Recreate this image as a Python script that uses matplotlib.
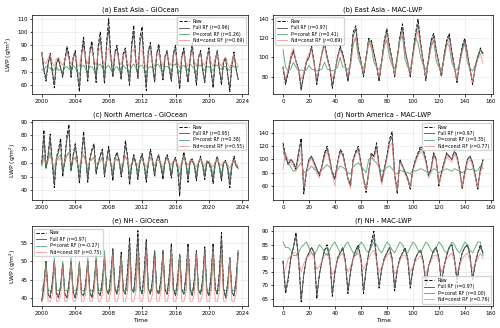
import numpy as np
import matplotlib
matplotlib.use("Agg")
import matplotlib.pyplot as plt

# ---- data (GiOcean = quarterly from 2000, MAC-LWP = every 2nd month) ----
# (a) East Asia - GiOcean
ea_go_raw = [85, 71, 63, 76, 84, 70, 58, 77, 80, 73, 66, 79, 89, 83, 66, 81,
             86, 69, 55, 84, 96, 79, 63, 87, 93, 77, 62, 90, 100, 80, 61, 92,
             110, 83, 66, 85, 90, 77, 64, 84, 88, 73, 60, 91, 105, 79, 65, 96,
             104, 77, 56, 86, 92, 75, 62, 84, 91, 76, 64, 82, 86, 73, 63, 84,
             90, 72, 57, 82, 88, 73, 62, 80, 92, 74, 60, 81, 86, 71, 62, 80,
             88, 71, 58, 79, 86, 72, 60, 78, 81, 67, 55, 76, 85, 72, 64]
ea_go_full = [83, 72, 65, 76, 82, 71, 61, 77, 79, 73, 67, 78, 87, 81, 67, 80,
              84, 70, 58, 82, 92, 78, 65, 85, 90, 77, 64, 88, 96, 79, 63, 89,
              103, 81, 67, 84, 88, 77, 65, 83, 86, 73, 62, 88, 100, 78, 66, 92,
              99, 76, 59, 85, 90, 75, 63, 83, 89, 75, 65, 81, 85, 73, 64, 83,
              88, 72, 59, 81, 86, 73, 63, 80, 90, 74, 62, 80, 85, 72, 63, 79,
              86, 71, 60, 78, 85, 72, 62, 77, 80, 68, 58, 75, 83, 72, 65]
ea_go_pconst = [72, 71, 74, 73, 73, 70, 72, 74, 71, 72, 70, 73, 74, 72, 71, 75,
                73, 70, 68, 74, 75, 72, 70, 74, 74, 71, 69, 75, 76, 73, 70, 74,
                75, 72, 69, 73, 74, 71, 70, 75, 73, 72, 69, 74, 76, 73, 71, 75,
                75, 72, 69, 73, 74, 73, 72, 76, 75, 72, 70, 74, 74, 73, 71, 75,
                76, 72, 70, 74, 75, 73, 71, 76, 74, 72, 70, 75, 75, 73, 71, 74,
                74, 72, 71, 75, 75, 73, 72, 74, 74, 72, 71, 75, 74, 73, 74]
ea_go_ndconst = [84, 78, 76, 80, 83, 77, 74, 80, 81, 77, 75, 79, 84, 80, 75, 81,
                 82, 76, 74, 84, 87, 80, 76, 85, 86, 79, 75, 85, 88, 80, 75, 86,
                 88, 80, 76, 84, 84, 78, 75, 83, 83, 77, 74, 85, 87, 79, 75, 86,
                 86, 78, 73, 82, 84, 77, 74, 82, 84, 78, 75, 81, 83, 77, 75, 82,
                 84, 77, 73, 81, 83, 77, 74, 80, 85, 78, 74, 81, 83, 77, 75, 80,
                 84, 77, 74, 80, 83, 77, 74, 79, 81, 76, 73, 78, 82, 77, 75]

# (b) East Asia - MAC-LWP
ea_mac_raw = [90, 72, 84, 100, 108, 96, 88, 66, 82, 96, 100, 112,
              95, 72, 90, 105, 116, 100, 90, 68, 85, 100, 112, 104,
              92, 75, 95, 126, 133, 110, 96, 80, 100, 120, 118, 105,
              92, 75, 96, 118, 130, 112, 98, 80, 100, 122, 135, 108,
              95, 80, 104, 125, 140, 115, 96, 76, 98, 118, 125, 108,
              94, 80, 102, 118, 125, 106, 90, 74, 95, 112, 120, 104,
              88, 72, 90, 100, 110, 102]
ea_mac_full = [90, 74, 85, 98, 106, 96, 88, 68, 82, 95, 100, 110,
               94, 74, 90, 104, 114, 100, 90, 70, 86, 100, 110, 103,
               92, 76, 95, 122, 130, 108, 96, 81, 100, 118, 116, 104,
               92, 77, 96, 116, 127, 110, 97, 81, 100, 120, 131, 107,
               95, 81, 103, 122, 135, 113, 95, 78, 98, 116, 122, 107,
               94, 81, 101, 116, 122, 105, 90, 76, 95, 110, 118, 103,
               88, 74, 90, 100, 108, 104]
ea_mac_pconst = [108, 90, 86, 88, 95, 90, 86, 87, 86, 87, 92, 88,
                 87, 86, 87, 88, 95, 88, 87, 86, 87, 90, 100, 90,
                 90, 87, 92, 115, 120, 100, 92, 88, 98, 118, 112, 95,
                 90, 87, 95, 112, 118, 100, 92, 88, 100, 118, 122, 98,
                 90, 88, 102, 120, 115, 100, 92, 87, 95, 112, 118, 96,
                 90, 88, 98, 115, 112, 95, 88, 87, 93, 108, 115, 95,
                 88, 86, 92, 102, 108, 105]
ea_mac_ndconst = [90, 78, 88, 102, 110, 95, 86, 78, 84, 98, 104, 108,
                  92, 80, 88, 104, 112, 98, 88, 78, 86, 98, 108, 100,
                  90, 82, 92, 112, 122, 104, 95, 84, 98, 116, 110, 100,
                  90, 80, 95, 112, 124, 106, 95, 82, 98, 118, 125, 104,
                  94, 84, 100, 116, 128, 110, 92, 80, 95, 110, 118, 104,
                  92, 84, 98, 112, 118, 100, 88, 78, 92, 106, 114, 100,
                  86, 74, 88, 98, 104, 94]

# (c) North America - GiOcean
na_go_raw = [60, 84, 56, 66, 81, 60, 42, 64, 70, 78, 50, 62, 80, 88, 54, 66,
             74, 62, 45, 65, 83, 64, 46, 63, 70, 74, 52, 60, 66, 70, 50, 62,
             72, 60, 47, 64, 68, 62, 50, 60, 76, 66, 44, 58, 66, 60, 48, 62,
             67, 58, 46, 60, 70, 62, 50, 63, 66, 58, 48, 62, 66, 60, 49, 61,
             64, 56, 36, 60, 68, 60, 46, 62, 63, 58, 47, 60, 65, 58, 48, 61,
             60, 55, 45, 60, 65, 57, 47, 60, 62, 55, 42, 58, 65, 58, 56]
na_go_full = [59, 80, 57, 65, 78, 61, 45, 63, 68, 75, 52, 62, 77, 84, 55, 65,
              72, 62, 47, 64, 79, 64, 48, 63, 69, 72, 53, 60, 65, 69, 51, 62,
              70, 60, 49, 63, 67, 62, 51, 60, 73, 65, 46, 58, 65, 60, 50, 61,
              66, 58, 48, 60, 68, 62, 51, 62, 65, 58, 50, 61, 65, 60, 50, 61,
              63, 57, 40, 59, 66, 60, 48, 61, 62, 58, 49, 60, 64, 58, 50, 60,
              60, 56, 47, 59, 64, 57, 49, 60, 61, 56, 45, 58, 63, 58, 56]
na_go_pconst = [58, 66, 56, 62, 68, 60, 52, 62, 64, 66, 54, 60, 66, 68, 55, 62,
                64, 60, 53, 63, 66, 61, 54, 62, 63, 64, 55, 60, 62, 64, 54, 61,
                64, 60, 53, 62, 63, 61, 55, 60, 65, 62, 52, 59, 62, 60, 53, 61,
                63, 59, 52, 60, 64, 61, 54, 62, 62, 59, 53, 61, 63, 60, 53, 61,
                62, 58, 50, 60, 64, 60, 52, 61, 61, 59, 52, 60, 63, 59, 53, 61,
                61, 58, 51, 60, 63, 58, 52, 60, 61, 57, 50, 59, 62, 58, 57]
na_go_ndconst = [58, 64, 60, 62, 65, 61, 57, 63, 62, 64, 58, 61, 65, 67, 60, 63,
                 63, 60, 57, 64, 66, 62, 58, 62, 62, 64, 59, 61, 61, 63, 58, 62,
                 63, 60, 57, 63, 62, 61, 58, 61, 65, 62, 57, 60, 62, 60, 58, 62,
                 63, 60, 57, 61, 64, 61, 58, 63, 62, 60, 57, 62, 63, 61, 58, 62,
                 62, 59, 56, 61, 64, 61, 58, 62, 62, 60, 57, 61, 63, 60, 58, 62,
                 61, 59, 57, 61, 63, 60, 58, 61, 61, 59, 56, 60, 62, 60, 58]

# (d) North America - MAC-LWP
na_mac_raw = [125, 105, 92, 100, 95, 85, 110, 132, 48, 80, 100, 105,
              95, 85, 75, 90, 110, 120, 100, 78, 70, 95, 115, 110,
              90, 70, 60, 100, 112, 120, 95, 70, 50, 80, 110, 105,
              125, 90, 65, 85, 105, 130, 142, 75, 48, 100, 90, 80,
              70, 55, 85, 100, 110, 120, 115, 100, 75, 85, 110, 100,
              60, 80, 95, 110, 105, 100, 115, 105, 85, 55, 80, 100,
              105, 95, 75, 55, 85, 100]
na_mac_full = [120, 105, 94, 100, 95, 87, 110, 126, 55, 82, 100, 104,
               95, 86, 77, 90, 108, 116, 100, 80, 72, 95, 112, 108,
               90, 72, 63, 98, 110, 116, 94, 72, 55, 82, 108, 104,
               120, 90, 68, 86, 104, 126, 135, 78, 52, 98, 90, 82,
               72, 58, 85, 98, 108, 116, 112, 98, 76, 86, 108, 100,
               63, 80, 94, 108, 104, 100, 112, 104, 85, 58, 82, 100,
               104, 95, 77, 58, 86, 98]
na_mac_pconst = [112, 100, 95, 88, 82, 84, 90, 95, 80, 82, 85, 90,
                 85, 82, 80, 84, 88, 92, 88, 80, 78, 84, 90, 88,
                 85, 80, 78, 88, 92, 95, 90, 85, 80, 100, 104, 98,
                 95, 88, 82, 84, 88, 90, 86, 80, 78, 84, 82, 80,
                 80, 78, 84, 82, 84, 86, 84, 82, 80, 82, 86, 84,
                 80, 82, 84, 86, 84, 82, 86, 84, 82, 80, 82, 86,
                 84, 86, 82, 84, 90, 86]
na_mac_ndconst = [85, 110, 100, 95, 90, 82, 100, 115, 60, 78, 95, 102,
                  90, 80, 72, 88, 102, 112, 95, 76, 60, 92, 110, 105,
                  88, 70, 56, 95, 108, 112, 90, 68, 55, 78, 105, 100,
                  115, 85, 62, 80, 100, 120, 125, 72, 52, 95, 88, 78,
                  68, 58, 80, 95, 105, 112, 108, 95, 72, 80, 104, 98,
                  62, 76, 90, 104, 100, 96, 108, 100, 80, 58, 76, 95,
                  100, 90, 72, 58, 80, 92]

# (e) NH - GiOcean
nh_go_raw = [39, 43, 50, 41, 40, 44, 50, 41, 40, 43, 49, 41, 40, 44, 50, 41.5,
             40, 43, 49, 41, 40.5, 44, 50, 41.5, 40, 44, 50, 41.5, 40.5, 45, 51, 42,
             41, 46, 53.5, 42.5, 41, 45, 52.5, 42, 41, 47, 56.5, 42.5, 41.5, 48, 58.5, 43,
             41, 47, 56, 42.5, 41, 45, 53, 42, 41, 45, 53, 42, 41, 46, 55, 42.5,
             40.5, 45, 52, 42, 41, 46, 55, 42.5, 40.5, 45, 53, 42, 41, 45, 54, 42,
             40.5, 46, 55, 42.5, 41, 47, 58, 42.5, 40, 44, 51, 41.5, 40.5, 45, 53]
nh_go_full = [39.5, 43.5, 50, 41, 40, 44, 50, 41.5, 40, 43.5, 49.5, 41, 40, 44, 50, 41.5,
              40, 43.5, 49.5, 41, 40.5, 44, 50, 41.5, 40, 44, 50.5, 41.5, 40.5, 45, 51, 42,
              41, 46, 53, 42.5, 41, 45, 52, 42, 41, 46.5, 55.5, 42.5, 41.5, 47.5, 57, 43,
              41, 47, 55.5, 42.5, 41, 45, 53, 42, 41, 45, 52.5, 42, 41, 46, 54, 42.5,
              40.5, 45, 52, 42, 41, 46, 54.5, 42.5, 40.5, 45, 53, 42, 41, 45, 53.5, 42,
              40.5, 46, 54.5, 42.5, 41, 46.5, 56.5, 42.5, 40, 44, 51, 41.5, 40.5, 45, 53]
nh_go_pconst = [42, 44, 50, 42, 42, 42, 51, 42, 42, 42, 50, 42, 42, 42, 51, 42,
                42, 42, 50, 42, 42, 42, 51, 42, 42, 42, 52, 42, 42, 42, 53, 42,
                42, 42, 53, 42, 42, 42, 52, 42, 42, 42, 53, 42, 42, 42, 52, 42,
                42, 42, 53, 42, 42, 42, 52, 42, 42, 42, 53, 42, 42, 42, 53, 42,
                42, 42, 52, 42, 42, 42, 53, 42, 42, 42, 52, 42, 42, 42, 53, 42,
                42, 42, 52, 42, 42, 42, 53, 42, 42, 42, 51, 42, 42, 42, 52]
nh_go_ndconst = [39, 40.5, 49, 39, 39, 40.5, 50, 39, 39, 40.5, 49, 39, 39, 41, 50, 39,
                 39, 40.5, 49, 39, 39, 41, 50, 39, 39, 41, 50, 39, 39, 41, 51, 39,
                 39, 41.5, 52, 39, 39, 41, 51, 39, 39, 41.5, 53, 39, 39, 41.5, 53, 39,
                 39, 41.5, 53, 39, 39, 41, 51, 39, 39, 41.5, 52, 39, 39, 41.5, 53, 39,
                 39, 41, 51, 39, 39, 41.5, 53, 39, 39, 41, 52, 39, 39, 41.5, 52, 39,
                 39, 41.5, 53, 39, 39, 41.5, 53, 39, 39, 41, 51, 39, 39, 41, 52]

# (f) NH - MAC-LWP
nh_mac_raw = [79, 67, 72, 80, 84, 89.5, 80, 64, 74, 80, 82, 84,
              82, 65, 74, 79, 83, 85, 80, 66, 75, 80, 82, 84,
              79, 67, 75, 80, 83, 85, 80, 67, 76, 82, 86, 90,
              80, 69, 76, 80, 82, 84, 80, 68, 76, 80, 82, 84,
              80, 69, 76, 80, 82, 83, 79, 70, 77, 80, 83, 84,
              80, 71, 77, 81, 84, 85, 80, 71, 78, 82, 84, 85,
              81, 72, 78, 82, 85, 82]
nh_mac_full = [79, 68, 73, 80, 84, 88, 80, 65, 74, 80, 82, 84,
               82, 66, 74, 79, 83, 84, 80, 67, 75, 80, 82, 84,
               79, 68, 75, 80, 83, 84, 80, 68, 76, 82, 85, 88,
               80, 70, 76, 80, 82, 84, 80, 69, 76, 80, 82, 83,
               80, 70, 76, 80, 82, 83, 79, 70, 77, 80, 83, 84,
               80, 71, 77, 81, 84, 85, 80, 72, 78, 82, 84, 85,
               81, 72, 78, 82, 84, 82]
nh_mac_pconst = [86, 84, 84, 83, 81, 81, 82, 84, 85, 86, 84, 82,
                 81, 83, 85, 84, 82, 81, 83, 85, 86, 84, 82, 83,
                 85, 86, 84, 82, 81, 84, 86, 85, 83, 82, 84, 86,
                 85, 83, 82, 84, 86, 85, 83, 82, 84, 86, 85, 83,
                 82, 84, 86, 85, 83, 82, 84, 86, 85, 83, 82, 84,
                 86, 85, 83, 82, 84, 86, 85, 83, 82, 84, 86, 85,
                 83, 82, 84, 86, 86, 81]
nh_mac_ndconst = [75, 76, 80, 81, 82, 82, 79, 75, 78, 80, 81, 82,
                  80, 76, 77, 79, 81, 82, 79, 74, 76, 79, 81, 82,
                  78, 75, 77, 80, 81, 82, 79, 76, 78, 80, 82, 83,
                  79, 75, 77, 79, 81, 82, 79, 74, 76, 79, 81, 81,
                  79, 75, 77, 79, 80, 81, 78, 74, 77, 79, 81, 81,
                  79, 75, 77, 80, 81, 82, 79, 75, 77, 80, 81, 82,
                  79, 76, 78, 80, 82, 80]

titles = ["(a) East Asia - GiOcean", "(b) East Asia - MAC-LWP",
          "(c) North America - GiOcean", "(d) North America - MAC-LWP",
          "(e) NH - GiOcean", "(f) NH - MAC-LWP"]
r_full = [0.96, 0.97, 0.95, 0.97, 0.97, 0.97]
r_pconst = [0.26, 0.41, 0.38, 0.35, -0.27, 0.00]
r_ndconst = [0.69, 0.69, 0.55, 0.77, 0.75, 0.76]

panels = [
    (ea_go_raw, ea_go_full, ea_go_pconst, ea_go_ndconst),
    (ea_mac_raw, ea_mac_full, ea_mac_pconst, ea_mac_ndconst),
    (na_go_raw, na_go_full, na_go_pconst, na_go_ndconst),
    (na_mac_raw, na_mac_full, na_mac_pconst, na_mac_ndconst),
    (nh_go_raw, nh_go_full, nh_go_pconst, nh_go_ndconst),
    (nh_mac_raw, nh_mac_full, nh_mac_pconst, nh_mac_ndconst),
]

# ---- layout ----
fig = plt.figure(figsize=(5.0, 3.28), dpi=100)
lefts = [0.064, 0.546]
widths = [0.432, 0.44]
bottoms = [0.712, 0.390, 0.067]
height = 0.243

ylims = [(53, 113), (61.5, 144.5), (33, 91), (38.5, 159), (37.7, 59.7), (62.4, 91.8)]
yticks = [np.arange(60, 111, 10), np.arange(80, 141, 20), np.arange(40, 91, 10),
          np.arange(60, 141, 20), np.arange(40, 56, 5), np.arange(65, 91, 5)]
legend_loc = ["upper right", "upper left", "upper right", "upper right",
              "upper left", "lower right"]

styles = [dict(color="k", ls="--", lw=0.65),
          dict(color="0.35", ls="-", lw=0.65),
          dict(color="seagreen", ls="-", lw=0.65, alpha=0.75),
          dict(color="lightcoral", ls="-", lw=0.65, alpha=0.75)]

for i, series in enumerate(panels):
    row, col = divmod(i, 2)
    ax = fig.add_axes([lefts[col], bottoms[row], widths[col], height])
    names = ["Raw", f"Full RF (r={r_full[i]:.2f})",
             f"P=const RF (r={r_pconst[i]:.2f})",
             f"Nd=const RF (r={r_ndconst[i]:.2f})"]
    for vals, name, st in zip(series, names, styles):
        if col == 0:
            x = 2000 + np.arange(len(vals)) / 4.0
        else:
            x = np.arange(len(vals)) * 2
        ax.plot(x, vals, label=name, **st)

    ax.set_ylim(*ylims[i])
    ax.set_yticks(yticks[i])
    if col == 0:
        ax.set_xticks(np.arange(2000, 2025, 4))
        ax.set_ylabel("LWP (g/m$^2$)", fontsize=4.3, labelpad=2)
    else:
        ax.set_xticks(np.arange(0, 161, 20))
    if row == 2:
        ax.set_xlabel("Time", fontsize=4.3, labelpad=1.5)
    ax.set_title(titles[i], fontsize=4.8, pad=2.5)
    ax.tick_params(labelsize=4, length=1.8, width=0.5, pad=1.5)
    for sp in ax.spines.values():
        sp.set_linewidth(0.5)
    ax.grid(True, linestyle=":", linewidth=0.4, color="0.75")
    ax.legend(loc=legend_loc[i], fontsize=3.3, frameon=True, framealpha=0.8,
              handlelength=2.2, borderpad=0.4, labelspacing=0.3, edgecolor="0.8")

fig.savefig("out.png", dpi=100)
